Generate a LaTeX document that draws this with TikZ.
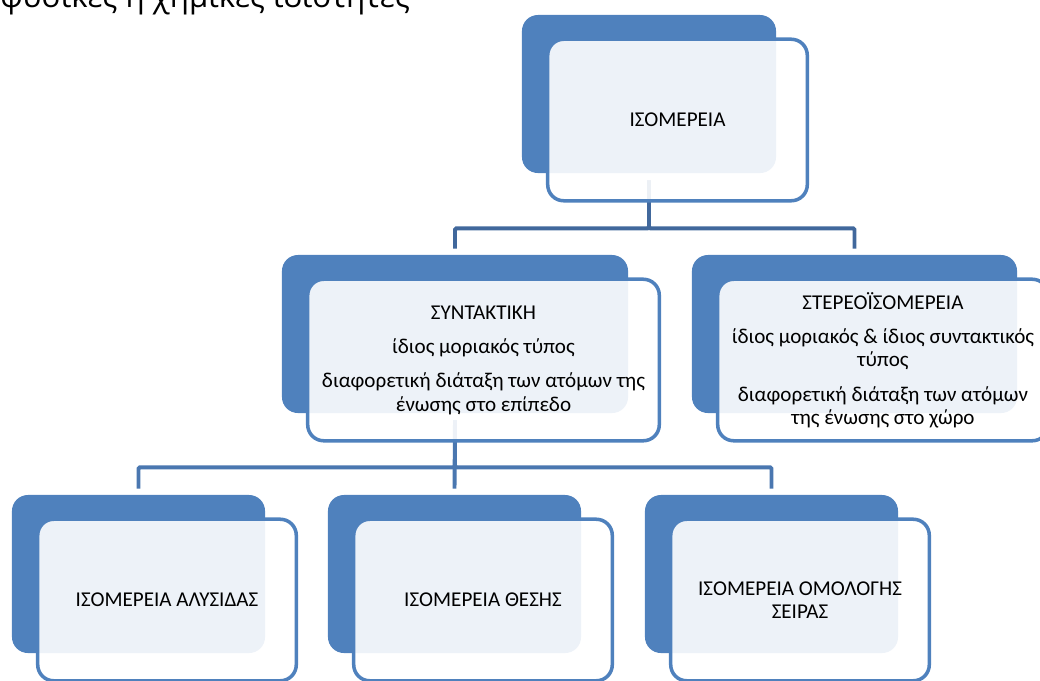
\documentclass[tikz,border=0pt]{standalone}
\usepackage{fontspec}
\setmainfont{Carlito}
\newfontfamily\headfont{Open Sans}
\usetikzlibrary{calc}
\definecolor{isoblue}{RGB}{79,129,189}
\definecolor{linkdark}{RGB}{65,104,156}
\definecolor{linkblue}{RGB}{74,119,176}

\begin{document}
\begin{tikzpicture}[x=0.025cm,y=-0.025cm,
    back/.style={fill=isoblue,rounded corners=0.4cm,inner sep=0pt},
    front/.style={draw=isoblue,line width=2.5pt,fill=white,fill opacity=0.9,text opacity=1,
      rounded corners=0.4cm,inner sep=0pt,align=center,font=\fontsize{15}{16.6}\selectfont},
    link/.style={line width=2.8pt,rounded corners=1pt}]
    \clip (0,0) rectangle (1040,680);
    \node[anchor=base west,inner sep=0pt,font=\headfont\fontsize{22.2}{26}\selectfont] (hint) at (0,7.5) {φυσικές ή χημικές ιδιότητες};
    % back boxes
    \node[back,minimum width=6.35cm,minimum height=3.95cm] (topb) at (649,94) {};
    \node[back,minimum width=8.65cm,minimum height=3.95cm] (synb) at (455,334) {};
    \node[back,minimum width=8.125cm,minimum height=3.95cm] (sterb) at (854.5,334) {};
    \node[back,minimum width=6.325cm,minimum height=3.95cm] (alyb) at (138.5,574) {};
    \node[back,minimum width=6.325cm,minimum height=3.95cm] (thesb) at (454.5,574) {};
    \node[back,minimum width=6.325cm,minimum height=3.95cm] (omolb) at (771.5,574) {};
    % connectors
    \draw[link,draw=linkdark] ([yshift=-0.175cm]topb.south) -- ++(0,48) -| ([yshift=0.15cm]synb.north);
    \draw[link,draw=linkdark] ([yshift=-0.175cm]topb.south) -- ++(0,48) -| ([yshift=0.15cm]sterb.north);
    \draw[link,draw=linkblue] ([yshift=-0.175cm]synb.south) -- ++(0,47) -| ([yshift=0.15cm]alyb.north);
    \draw[link,draw=linkblue] ([yshift=-0.175cm]synb.south) -- ([yshift=0.15cm]thesb.north);
    \draw[link,draw=linkblue] ([yshift=-0.175cm]synb.south) -- ++(0,47) -| ([yshift=0.15cm]omolb.north);
    % front boxes
    \node[front,minimum width=6.4875cm,minimum height=4.0375cm] (topf) at ($(topb)+(28.5,26)$) {ΙΣΟΜΕΡΕΙΑ};
    \node[front,minimum width=8.7875cm,minimum height=4.0375cm] (synf) at ($(synb)+(28.5,26)$)
      {ΣΥΝΤΑΚΤΙΚΗ\\[7.8pt] ίδιος μοριακός τύπος\\[7.8pt] διαφορετική διάταξη των ατόμων της\\ ένωσης στο επίπεδο};
    \node[front,minimum width=8.2625cm,minimum height=4.0375cm] (sterf) at ($(sterb)+(28.5,26)$)
      {ΣΤΕΡΕΟΪΣΟΜΕΡΕΙΑ\\[7.8pt] ίδιος μοριακός \& ίδιος συντακτικός\\ τύπος\\[7.8pt] διαφορετική διάταξη των ατόμων\\ της ένωσης στο χώρο};
    \node[front,minimum width=6.4625cm,minimum height=4.0375cm] (alyf) at ($(alyb)+(28.5,26)$) {ΙΣΟΜΕΡΕΙΑ ΑΛΥΣΙΔΑΣ};
    \node[front,minimum width=6.4625cm,minimum height=4.0375cm] (thesf) at ($(thesb)+(28.5,26)$) {ΙΣΟΜΕΡΕΙΑ ΘΕΣΗΣ};
    \node[front,minimum width=6.4625cm,minimum height=4.0375cm] (omolf) at ($(omolb)+(28.5,26)$) {ΙΣΟΜΕΡΕΙΑ ΟΜΟΛΟΓΗΣ\\ ΣΕΙΡΑΣ};
\end{tikzpicture}
\end{document}
